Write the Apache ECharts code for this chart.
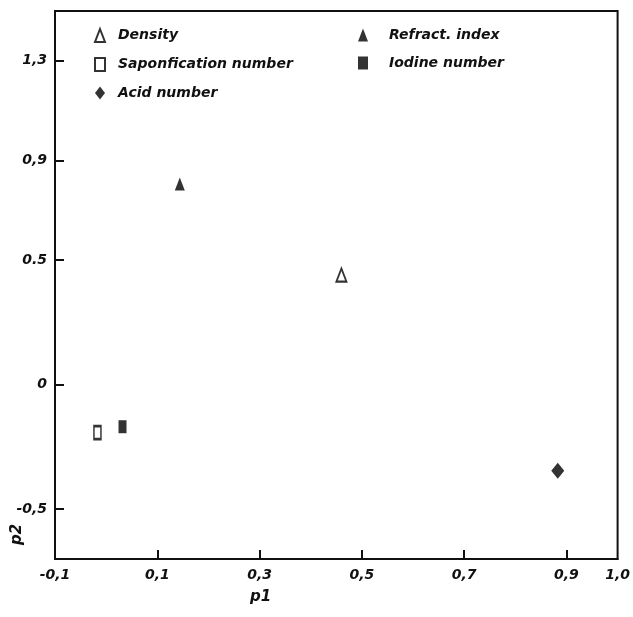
<!DOCTYPE html>
<html>
<head>
<meta charset="utf-8">
<script src="https://cdn.jsdelivr.net/npm/echarts@6/dist/echarts.min.js"></script>
<style>
html,body{margin:0;padding:0;background:#fff;}
#c{width:633px;height:617px;}
</style>
</head>
<body>
<div id="c"></div>
<script>
// ---- data ----
var seriesNames = ['Density', 'Refract. index', 'Saponfication number', 'Iodine number', 'Acid number'];
var densityPt = [[0.46, 0.44]];
var refractPt = [[0.144, 0.805]];
var saponPt = [[-0.017, -0.193]];
var iodinePt = [[0.032, -0.169]];
var acidPt = [[0.883, -0.346]];
var xTicks = [-0.1, 0.1, 0.3, 0.5, 0.7, 0.9, 1.0];
var xTickLabels = ['-0,1', '0,1', '0,3', '0,5', '0,7', '0,9', '1,0'];
var yTicks = [-0.5, 0, 0.5, 0.9, 1.3];
var yTickLabels = ['-0,5', '0', '0.5', '0,9', '1,3'];
var xTitle = 'p1';
var yTitle = 'p2';

function lookup(vals, labels, v) {
  for (var i = 0; i < vals.length; i++) { if (Math.abs(vals[i] - v) < 1e-6) return labels[i]; }
  return '';
}
var font = { fontFamily: 'DejaVu Sans', fontStyle: 'italic', fontWeight: 'bold', color: '#111' };

var chart = echarts.init(document.getElementById('c'), null, { renderer: 'canvas' });
var openStyle = { color: '#fff', borderColor: '#000', borderWidth: 2 };
var fillStyle = { color: '#000', borderColor: '#000', borderWidth: 0 };
chart.setOption({
  animation: false,
  backgroundColor: '#fff',
  grid: { left: 55, right: 10, top: 11, bottom: 58, show: true, borderColor: '#111', borderWidth: 2, backgroundColor: 'transparent' },
  legend: [
    {
      orient: 'vertical', left: 89, top: 23, itemGap: 14, itemWidth: 10, itemHeight: 13,
      textStyle: Object.assign({ fontSize: 14, padding: [0, 0, 0, 8] }, font),
      data: [seriesNames[0], seriesNames[2], seriesNames[4]],
      selectedMode: false
    },
    {
      orient: 'vertical', left: 353, top: 23, itemGap: 14, itemWidth: 10, itemHeight: 13,
      textStyle: Object.assign({ fontSize: 14, padding: [0, 0, 0, 16] }, font),
      data: [seriesNames[1], seriesNames[3]],
      selectedMode: false
    }
  ],
  xAxis: {
    type: 'value', min: -0.1, max: 1.0,
    splitLine: { show: false },
    axisLine: { show: true, onZero: false, lineStyle: { color: '#111', width: 2 } },
    axisTick: { show: true, inside: true, length: 9, customValues: [0.1, 0.3, 0.5, 0.7, 0.9], lineStyle: { color: '#111', width: 2 } },
    axisLabel: Object.assign({ customValues: xTicks, fontSize: 14, margin: 9,
      formatter: function (v) { return lookup(xTicks, xTickLabels, v); } }, font)
  },
  yAxis: {
    type: 'value', min: -0.7, max: 1.5,
    splitLine: { show: false },
    axisLine: { show: true, onZero: false, lineStyle: { color: '#111', width: 2 } },
    axisTick: { show: true, inside: true, length: 9, customValues: yTicks, lineStyle: { color: '#111', width: 2 } },
    axisLabel: Object.assign({ customValues: yTicks, fontSize: 14, margin: 8,
      formatter: function (v) { return lookup(yTicks, yTickLabels, v); } }, font)
  },
  graphic: [
    { type: 'text', left: 250, top: 590, style: { text: xTitle, fontSize: 15, fontStyle: 'italic', fontWeight: 'bold', fontFamily: 'DejaVu Sans', fill: '#111' } },
    { type: 'text', x: 10, y: 545, rotation: Math.PI / 2, style: { text: yTitle, fontSize: 15, fontStyle: 'italic', fontWeight: 'bold', fontFamily: 'DejaVu Sans', fill: '#111' } }
  ],
  series: [
    { name: seriesNames[0], type: 'scatter', data: densityPt, symbol: 'triangle', symbolSize: [10, 13], itemStyle: openStyle },
    { name: seriesNames[1], type: 'scatter', data: refractPt, symbol: 'triangle', symbolSize: [10, 13], itemStyle: fillStyle },
    { name: seriesNames[2], type: 'scatter', data: saponPt, symbol: 'rect', symbolSize: [7, 13], itemStyle: openStyle },
    { name: seriesNames[3], type: 'scatter', data: iodinePt, symbol: 'rect', symbolSize: [8, 13], itemStyle: fillStyle },
    { name: seriesNames[4], type: 'scatter', data: acidPt, symbol: 'diamond', symbolSize: [13, 16], itemStyle: fillStyle }
  ]
});
</script>
</body>
</html>
